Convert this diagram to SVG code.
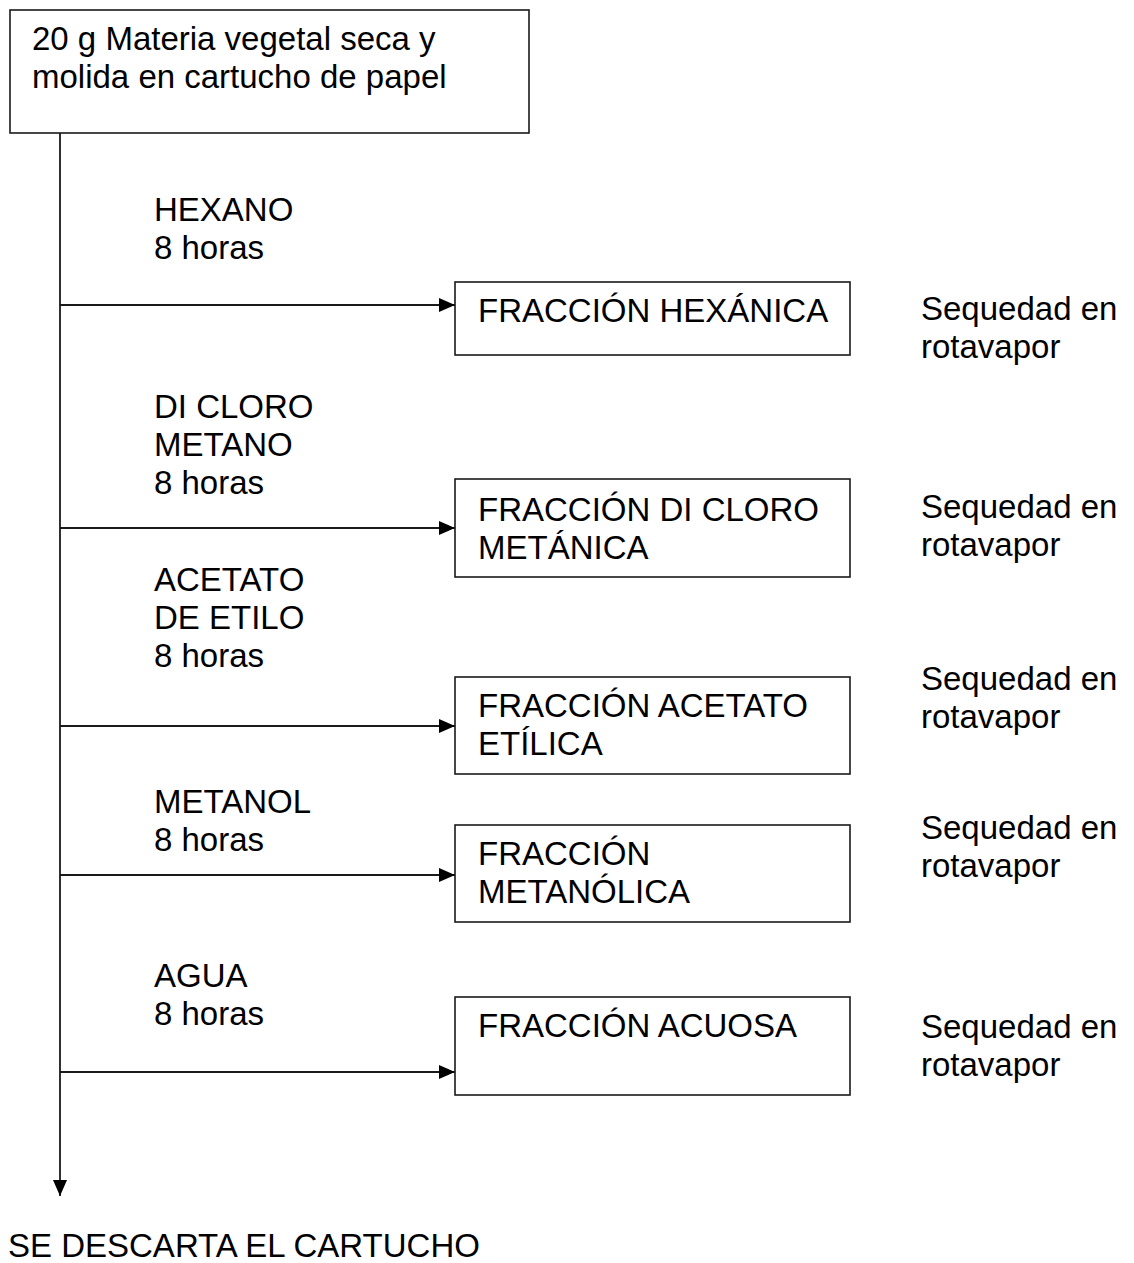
<svg xmlns="http://www.w3.org/2000/svg" width="1134" height="1263" viewBox="0 0 1134 1263">
<style>
  text { font-family: "Liberation Sans", Arial, sans-serif; font-size: 33px; fill: #000; }
  .box { fill: #fff; stroke: #1a1a1a; stroke-width: 1.6; }
  .conn { stroke: #1a1a1a; stroke-width: 1.8; fill: none; }
</style>
<defs>
  <marker id="arr" markerUnits="userSpaceOnUse" markerWidth="16" markerHeight="14" refX="16" refY="7" orient="auto">
    <path d="M0,0 L16,7 L0,14 Z" fill="#000"/>
  </marker>
</defs>
<rect width="1134" height="1263" fill="#fff"/>
<g id="connectors">
  <line class="conn" x1="60" y1="133" x2="60" y2="1196" marker-end="url(#arr)"/>
  <line class="conn" x1="60" y1="305" x2="455" y2="305" marker-end="url(#arr)"/>
  <line class="conn" x1="60" y1="528" x2="455" y2="528" marker-end="url(#arr)"/>
  <line class="conn" x1="60" y1="726" x2="455" y2="726" marker-end="url(#arr)"/>
  <line class="conn" x1="60" y1="875" x2="455" y2="875" marker-end="url(#arr)"/>
  <line class="conn" x1="60" y1="1072" x2="455" y2="1072" marker-end="url(#arr)"/>
</g>
<g id="start">
  <rect class="box" x="10" y="10" width="519" height="123"/>
  <text x="32" y="50">20 g Materia vegetal seca y</text>
  <text x="32" y="88">molida en cartucho de papel</text>
</g>
<g id="label-hexano">
  <text x="154" y="221">HEXANO</text>
  <text x="154" y="259">8 horas</text>
</g>
<g id="frac-hexanica">
  <rect class="box" x="455" y="282" width="395" height="73"/>
  <text x="478" y="322">FRACCIÓN HEXÁNICA</text>
</g>
<g id="seq-1">
  <text x="921" y="320">Sequedad en</text>
  <text x="921" y="358">rotavapor</text>
</g>
<g id="label-dicloro">
  <text x="154" y="418">DI CLORO</text>
  <text x="154" y="456">METANO</text>
  <text x="154" y="494">8 horas</text>
</g>
<g id="frac-dicloro">
  <rect class="box" x="455" y="479" width="395" height="98"/>
  <text x="478" y="521">FRACCIÓN DI CLORO</text>
  <text x="478" y="559">METÁNICA</text>
</g>
<g id="seq-2">
  <text x="921" y="518">Sequedad en</text>
  <text x="921" y="556">rotavapor</text>
</g>
<g id="label-acetato">
  <text x="154" y="591">ACETATO</text>
  <text x="154" y="629">DE ETILO</text>
  <text x="154" y="667">8 horas</text>
</g>
<g id="frac-acetato">
  <rect class="box" x="455" y="677" width="395" height="97"/>
  <text x="478" y="717">FRACCIÓN ACETATO</text>
  <text x="478" y="755">ETÍLICA</text>
</g>
<g id="seq-3">
  <text x="921" y="690">Sequedad en</text>
  <text x="921" y="728">rotavapor</text>
</g>
<g id="label-metanol">
  <text x="154" y="813">METANOL</text>
  <text x="154" y="851">8 horas</text>
</g>
<g id="frac-metanolica">
  <rect class="box" x="455" y="825" width="395" height="97"/>
  <text x="478" y="865">FRACCIÓN</text>
  <text x="478" y="903">METANÓLICA</text>
</g>
<g id="seq-4">
  <text x="921" y="839">Sequedad en</text>
  <text x="921" y="877">rotavapor</text>
</g>
<g id="label-agua">
  <text x="154" y="987">AGUA</text>
  <text x="154" y="1025">8 horas</text>
</g>
<g id="frac-acuosa">
  <rect class="box" x="455" y="997" width="395" height="98"/>
  <text x="478" y="1037">FRACCIÓN ACUOSA</text>
</g>
<g id="seq-5">
  <text x="921" y="1038">Sequedad en</text>
  <text x="921" y="1076">rotavapor</text>
</g>
<g id="end">
  <text x="8" y="1257">SE DESCARTA EL CARTUCHO</text>
</g>
</svg>
